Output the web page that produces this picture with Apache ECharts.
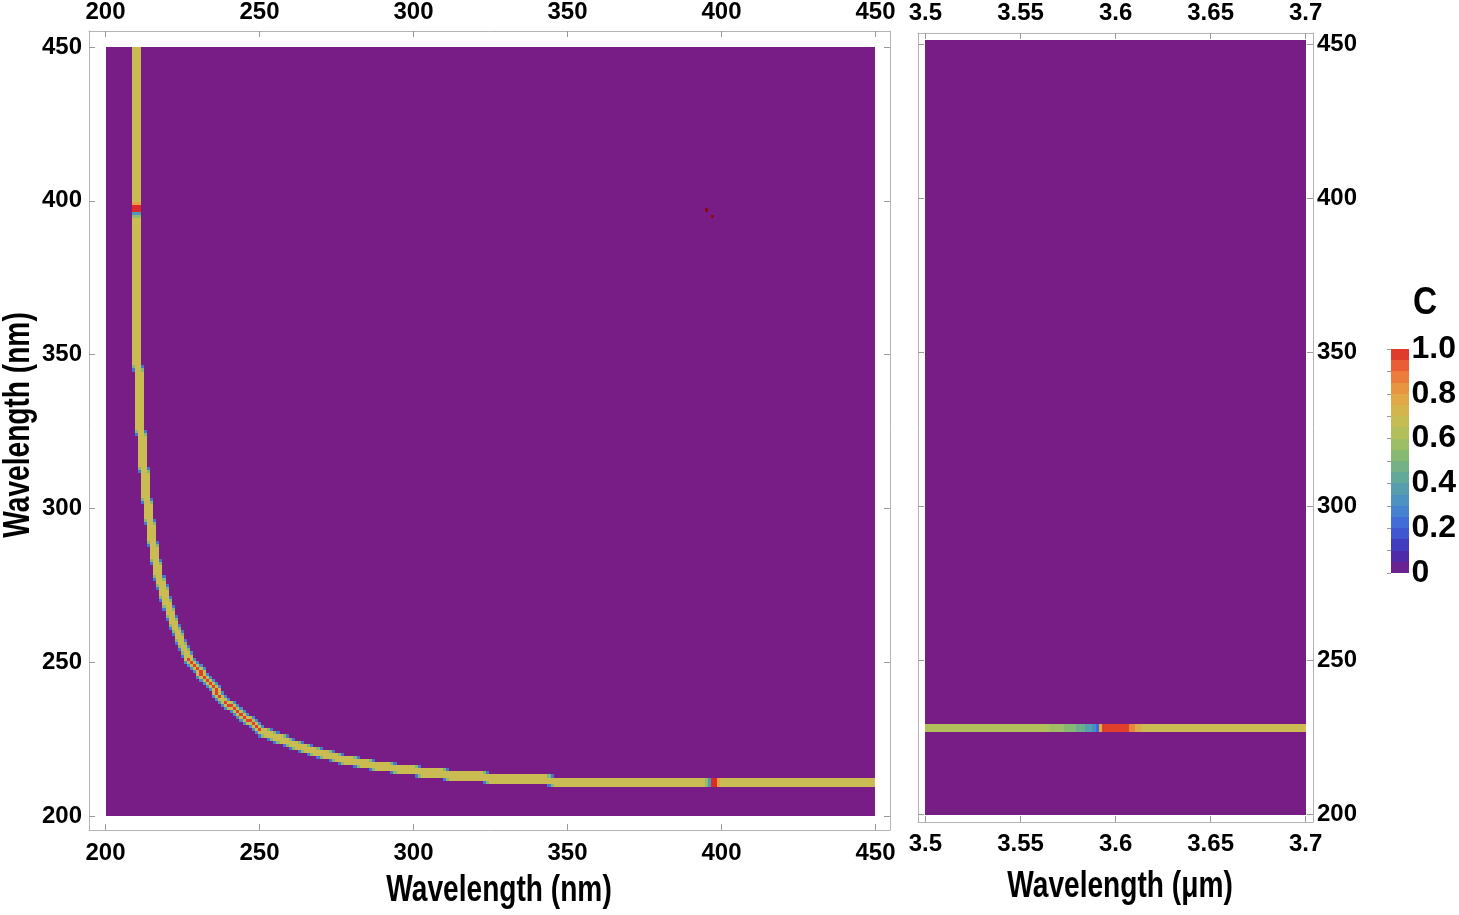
<!DOCTYPE html>
<html lang="en">
<head>
  <meta charset="UTF-8">
  <title>Wavelength maps</title>
  <script src="https://cdn.jsdelivr.net/npm/echarts@6/dist/echarts.min.js"></script>
  <style>
    html, body { margin: 0; background: #fff; }
    #main { width: 1459px; height: 915px; }
  </style>
</head>
<body>
<div id="main"></div>
<script>
  // ---- data ----
  const nmTicks = [200, 250, 300, 350, 400, 450];
  const umTicks = [3.5, 3.55, 3.6, 3.65, 3.7];
  const cTicks = [0, 0.2, 0.4, 0.6, 0.8, 1.0];

  const bandC = 0.69; // C along most of the curve

  // vertical part of the curve: [x centre, y from, y to]
  const stemRuns = [
    [210, 346, 451], [211, 325, 345], [212, 313, 324], [213, 303, 312], [214, 296, 302],
    [215, 289, 295], [216, 283, 288], [217, 278, 282], [218, 275, 277], [219, 271, 274],
    [220, 268, 270], [221, 265, 267], [222, 262, 264], [223, 260, 261], [224, 257, 259],
    [225, 255, 256], [226, 253, 254]
  ];
  // horizontal part of the curve: [y centre, x from, x to]
  const tailRuns = [
    [211, 345, 451], [212, 324, 344], [213, 311, 323], [214, 302, 310], [215, 294, 301],
    [216, 287, 293], [217, 282, 286], [218, 277, 281], [219, 274, 276], [220, 270, 273],
    [221, 267, 269], [222, 264, 266], [223, 261, 263], [224, 259, 260], [225, 256, 258],
    [226, 254, 255], [227, 251, 253]
  ];
  // the bend, cell by cell
  const elbowX = [227, 227, 228, 229, 230, 231, 231, 232, 233, 234, 235, 236, 236, 237,
    238, 239, 240, 241, 242, 243, 244, 245, 246, 247, 248, 249, 250];
  const elbowY = [252, 251, 250, 249, 248, 247, 246, 245, 244, 243, 242, 241, 240, 239,
    238, 237, 236, 236, 235, 234, 233, 232, 231, 231, 230, 229, 228];
  const elbowC = [0.69, 0.97, 0.97, 0.97, 0.97, 0.97, 0.97, 0.97, 0.97, 0.97, 0.97, 0.97, 0.97, 0.97,
    0.69, 0.97, 0.97, 0.97, 0.97, 0.97, 0.97, 0.97, 0.97, 0.97, 0.97, 0.97, 0.97];
  // rows across the stem / columns across the tail with other values
  const stemMarks = [[399, 0.8], [398, 1.0], [397, 1.0], [396, 0.35], [395, 0.55]];
  const tailMarks = [[395, 0.55], [396, 0.35], [397, 1.0], [398, 1.0], [399, 0.8]];
  const hotSpots = [[395, 397], [397, 395]]; // cells above the colour range

  // right panel: C along the line at ~228 nm
  const umEdges = [3.5, 3.565, 3.573, 3.579, 3.584, 3.5875, 3.5895, 3.5915, 3.593, 3.607, 3.610, 3.614, 3.7];
  const umC = [0.62, 0.58, 0.52, 0.45, 0.38, 0.3, 0.22, 0.75, 0.97, 0.86, 0.76, 0.69];
  const umBand = [226.9, 229.6];
  const umFloor = [200, 451.6];

  // ---- colours ----
  const rainbow = ['#781c86', '#4130b4', '#4162da', '#488cca', '#5aa4a4', '#7cb67a',
    '#a8c05f', '#cebb50', '#e6a144', '#ed6f39', '#db2b27'];
  const overColor = '#8b0a14';
  function colorOf(v) {
    if (v > 1) return overColor;
    return echarts.color.lerp(Math.max(0, v), rainbow);
  }

  // ---- build the left cell table ----
  const key = (x, y) => x + ',' + y;
  const centres = [];
  stemRuns.forEach(([xc, y0, y1]) => { for (let y = y0; y <= y1; y++) centres.push([xc, y, bandC]); });
  tailRuns.forEach(([yc, x0, x1]) => { for (let x = x0; x <= x1; x++) centres.push([x, yc, bandC]); });
  elbowX.forEach((x, i) => centres.push([x, elbowY[i], elbowC[i], true]));

  const cover = new Map();
  const nearBend = new Set();
  centres.forEach(([x, y, , bend]) => {
    for (let dx = -1; dx <= 1; dx++) for (let dy = -1; dy <= 1; dy++) {
      const k = key(x + dx, y + dy);
      cover.set(k, (cover.get(k) || 0) + 1);
      if (bend) nearBend.add(k);
    }
  });
  const cellVal = new Map();
  cover.forEach((n, k) => {
    let v = n >= 3 ? bandC : n === 2 ? 0.52 : 0.25;
    if (nearBend.has(k) && n === 2) v = 0.66;
    if (nearBend.has(k) && n === 1) v = 0.3;
    cellVal.set(k, v);
  });
  centres.forEach(([x, y, v]) => cellVal.set(key(x, y), v));
  stemMarks.forEach(([y, v]) => {
    const run = stemRuns.find(r => y >= r[1] && y <= r[2]);
    for (let dx = -1; dx <= 1; dx++) cellVal.set(key(run[0] + dx, y), v);
  });
  tailMarks.forEach(([x, v]) => {
    const run = tailRuns.find(r => x >= r[1] && x <= r[2]);
    for (let dy = -1; dy <= 1; dy++) cellVal.set(key(x, run[0] + dy), v);
  });
  hotSpots.forEach(([x, y]) => cellVal.set(key(x, y), 2));

  const nmCells = [];
  cellVal.forEach((v, k) => {
    const [x, y] = k.split(',').map(Number);
    if (x < 200 || x > 450 || y < 200 || y > 450) return;
    nmCells.push([Math.max(200, x - 0.5), Math.min(450, x + 0.5), Math.max(200, y - 0.5), Math.min(450, y + 0.5), v]);
  });

  const umCells = umC.map((c, i) => [umEdges[i], umEdges[i + 1], umBand[0], umBand[1], c]);

  const barCells = [];
  for (let i = 0; i < 20; i++) barCells.push([0, 1, i / 20, (i + 1) / 20, (i + 0.5) / 20]);

  // ---- chart ----
  function rectItem(params, api) {
    const a = api.coord([api.value(0), api.value(3)]);
    const b = api.coord([api.value(1), api.value(2)]);
    const x0 = Math.round(a[0]), y0 = Math.round(a[1]);
    const x1 = Math.round(b[0]), y1 = Math.round(b[1]);
    return {
      type: 'rect',
      shape: { x: x0, y: y0, width: x1 - x0, height: y1 - y0 },
      style: { fill: colorOf(api.value(4)) }
    };
  }

  const labelFont = { color: '#000', fontFamily: 'Liberation Sans', fontWeight: 'bold', fontSize: 24 };
  function frameAxis(gridIndex, min, max, ticks, position, showLabel, margin, fmt) {
    return {
      type: 'value', gridIndex, min, max, position,
      axisLine: { show: true, onZero: false, lineStyle: { color: '#b4b4b4', width: 1 } },
      axisTick: { show: true, inside: true, length: 6, customValues: ticks, lineStyle: { color: '#9a9a9a' } },
      axisLabel: Object.assign({ show: showLabel, customValues: ticks, margin, formatter: fmt }, labelFont),
      splitLine: { show: false }
    };
  }
  const fmtUm = v => String(+(+v).toFixed(2));
  const fmtC = v => (+v === 0 ? '0' : (+v).toFixed(1));

  const series = (data, xi, yi) => ({
    type: 'custom', renderItem: rectItem, data, xAxisIndex: xi, yAxisIndex: yi,
    encode: { x: [0, 1], y: [2, 3] }, clip: false, silent: true
  });

  const titleStyle = { text: 'Wavelength (nm)', font: 'bold 37px "Liberation Sans"', fill: '#000', align: 'center', verticalAlign: 'middle' };

  const chart = echarts.init(document.getElementById('main'));
  chart.setOption({
    animation: false,
    backgroundColor: '#fff',
    grid: [
      { left: 89, top: 30, width: 801, height: 800 },
      { left: 918, top: 33, width: 395, height: 789 },
      { left: 1391, top: 349, width: 20, height: 224 }
    ],
    xAxis: [
      frameAxis(0, 194.64, 454.71, nmTicks, 'bottom', true, 11),
      frameAxis(0, 194.64, 454.71, nmTicks, 'top', true, 7),
      frameAxis(1, 3.4961, 3.70384, umTicks, 'bottom', true, 10, fmtUm),
      frameAxis(1, 3.4961, 3.70384, umTicks, 'top', true, 8, fmtUm),
      { type: 'value', gridIndex: 2, min: 0, max: 1, show: false }
    ],
    yAxis: [
      frameAxis(0, 195.45, 455.2, nmTicks, 'left', true, 7),
      frameAxis(0, 195.45, 455.2, nmTicks, 'right', false, 7),
      frameAxis(1, 197.63, 453.8, nmTicks, 'left', false, 4),
      frameAxis(1, 197.63, 453.8, nmTicks, 'right', true, 4),
      {
        type: 'value', gridIndex: 2, min: 0, max: 1, position: 'right',
        axisLine: { show: false },
        axisTick: { show: true, inside: true, length: 4, customValues: [0, 0.1, 0.2, 0.3, 0.4, 0.5, 0.6, 0.7, 0.8, 0.9, 1], lineStyle: { color: '#9a9a9a' } },
        axisLabel: { customValues: cTicks, formatter: fmtC, margin: 3, color: '#000', fontFamily: 'Liberation Sans', fontWeight: 'bold', fontSize: 32 },
        splitLine: { show: false }
      }
    ],
    series: [
      series([[200, 450, 200, 450, 0]], 0, 0),
      series(nmCells, 0, 0),
      series([[3.5, 3.7, umFloor[0], umFloor[1], 0]], 2, 2),
      series(umCells, 2, 2),
      series(barCells, 4, 4)
    ],
    graphic: [
      { type: 'text', x: 499, y: 891, scaleX: 0.76, style: Object.assign({}, titleStyle) },
      { type: 'text', x: 19, y: 425, rotation: Math.PI / 2, scaleX: 0.76, style: Object.assign({}, titleStyle) },
      { type: 'text', x: 1120, y: 887, scaleX: 0.76, style: Object.assign({}, titleStyle, { text: 'Wavelength (μm)' }) },
      { type: 'text', x: 1425, y: 304, scaleX: 0.88, style: Object.assign({}, titleStyle, { text: 'C', font: 'bold 38px "Liberation Sans"' }) }
    ]
  });
</script>
</body>
</html>
